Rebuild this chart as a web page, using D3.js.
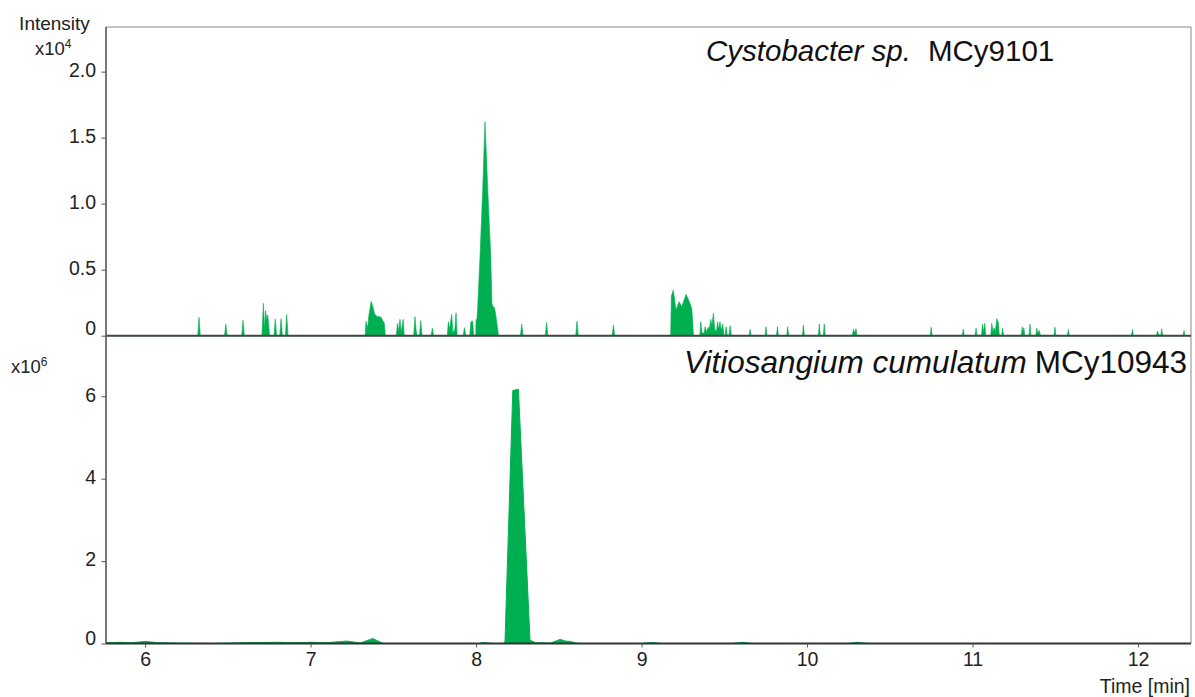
<!DOCTYPE html>
<html>
<head>
<meta charset="utf-8">
<script src="https://cdn.jsdelivr.net/npm/d3@7"></script>
<style>
  html, body { margin: 0; padding: 0; background: #fff; }
  svg { display: block; font-family: "Liberation Sans", Arial, sans-serif; }
</style>
</head>
<body>
<svg id="chart" width="1195" height="697"></svg>
<script>
// Retention-time window shown on the shared time axis (min)
const timeDomain = [5.764, 12.32];

// Upper trace: Cystobacter sp. MCy9101, [time (min), intensity (x10^4)]
const traceTop = [
  [5.764,0],
  [6.318,0],[6.326,0.14],[6.334,0],
  [6.480,0],[6.488,0.086],[6.496,0],
  [6.584,0],[6.592,0.117],[6.600,0],
  [6.706,0],[6.715,0.245],[6.722,0.05],[6.728,0.19],[6.736,0.12],[6.741,0.157],[6.748,0.07],[6.752,0],
  [6.779,0],[6.787,0.127],[6.795,0],
  [6.814,0],[6.822,0.13],[6.830,0],
  [6.848,0],[6.856,0.16],[6.864,0],
  [7.330,0],[7.335,0.11],[7.345,0.06],[7.352,0.15],[7.366,0.26],[7.374,0.23],[7.382,0.19],[7.388,0.16],
  [7.396,0.155],[7.402,0.14],[7.410,0.15],[7.418,0.14],[7.426,0.14],[7.434,0.12],[7.446,0.094],[7.452,0],
  [7.518,0],[7.525,0.094],[7.532,0.03],[7.540,0.124],[7.548,0.03],[7.560,0.124],[7.566,0],
  [7.623,0],[7.631,0.144],[7.638,0.04],[7.644,0],
  [7.658,0],[7.666,0.114],[7.674,0],
  [7.728,0],[7.736,0.056],[7.744,0],
  [7.826,0],[7.833,0.106],[7.840,0.05],[7.853,0.162],[7.860,0.02],[7.872,0.05],[7.879,0.174],[7.886,0],
  [7.922,0],[7.930,0.061],[7.938,0],
  [7.962,0],[7.968,0.10],[7.974,0.11],[7.980,0.11],[7.986,0],
  [7.998,0],[8.000,0.12],[8.006,0.13],[8.010,0.22],[8.024,0.60],[8.040,1.10],[8.054,1.62],
  [8.071,1.10],[8.089,0.60],[8.096,0.24],[8.104,0.22],[8.112,0.21],[8.120,0.15],[8.136,0],
  [8.268,0],[8.276,0.088],[8.284,0],
  [8.418,0],[8.426,0.10],[8.434,0],
  [8.602,0],[8.610,0.11],[8.618,0],
  [8.822,0],[8.830,0.08],[8.838,0],
  [9.176,0],[9.180,0.30],[9.192,0.346],[9.208,0.195],[9.227,0.258],[9.243,0.22],[9.269,0.313],
  [9.289,0.258],[9.304,0.20],[9.310,0.08],[9.314,0],
  [9.352,0],[9.358,0.106],[9.365,0.02],[9.378,0.02],[9.384,0.068],[9.392,0.03],[9.404,0.065],[9.410,0.05],
  [9.418,0.124],[9.426,0.08],[9.434,0.17],[9.442,0.05],[9.452,0.03],[9.460,0.106],[9.466,0.05],[9.474,0.106],
  [9.482,0.04],[9.491,0.088],[9.498,0],[9.504,0],[9.511,0.068],[9.518,0],[9.528,0],[9.535,0.076],[9.543,0],
  [9.650,0],[9.656,0.048],[9.662,0],
  [9.746,0],[9.752,0.068],[9.758,0],
  [9.815,0],[9.821,0.068],[9.827,0],
  [9.877,0],[9.883,0.068],[9.889,0],
  [9.972,0],[9.978,0.081],[9.984,0],
  [10.068,0],[10.074,0.088],[10.080,0],
  [10.098,0],[10.104,0.088],[10.110,0],
  [10.274,0],[10.280,0.048],[10.288,0.02],[10.296,0.053],[10.302,0],
  [10.744,0],[10.750,0.064],[10.756,0],
  [10.938,0],[10.944,0.051],[10.950,0],
  [11.015,0],[11.021,0.056],[11.027,0],
  [11.054,0],[11.060,0.088],[11.066,0.03],[11.074,0.094],[11.080,0],
  [11.110,0],[11.116,0.094],[11.124,0.03],[11.130,0.06],[11.138,0.03],[11.146,0.129],[11.156,0.10],[11.162,0],
  [11.176,0],[11.182,0.056],[11.188,0],
  [11.294,0],[11.300,0.068],[11.305,0.03],[11.310,0.06],[11.316,0],
  [11.341,0],[11.347,0.088],[11.353,0],
  [11.382,0],[11.388,0.056],[11.396,0.02],[11.404,0.04],[11.410,0],
  [11.492,0],[11.498,0.064],[11.504,0],
  [11.573,0],[11.579,0.048],[11.585,0],
  [11.960,0],[11.966,0.048],[11.972,0],
  [12.111,0],[12.117,0.036],[12.124,0.01],[12.137,0],[12.143,0.053],[12.149,0],
  [12.272,0],[12.278,0.038],[12.284,0],
  [12.32,0]
];

// Lower trace: Vitiosangium cumulatum MCy10943, [time (min), intensity (x10^6)]
const traceBottom = [
  [5.764,0.02],[5.85,0.03],[5.92,0.02],[6.00,0.05],[6.08,0.02],[6.20,0.01],[6.40,0.00],[6.60,0.02],
  [6.80,0.03],[6.90,0.02],[7.00,0.03],[7.10,0.02],[7.219,0.06],[7.30,0.01],[7.376,0.12],[7.44,0.00],
  [7.70,0.00],[8.02,0.00],[8.044,0.025],[8.10,0.00],[8.165,0.00],[8.175,0.05],[8.222,6.14],[8.256,6.17],
  [8.326,0.08],[8.36,0.02],[8.45,0.01],[8.508,0.10],[8.54,0.06],[8.568,0.05],[8.62,0.00],[9.00,0.00],
  [9.06,0.025],[9.12,0.00],[9.55,0.00],[9.61,0.03],[9.67,0.00],[10.25,0.00],[10.30,0.03],[10.37,0.00],
  [12.32,0.00]
];

// Axis ticks
const topMajorTicks = [0, 0.5, 1.0, 1.5, 2.0];
const topTickLabels = ["0", "0.5", "1.0", "1.5", "2.0"];
const bottomMajorTicks = [0, 2, 4, 6];
const bottomTickLabels = ["0", "2", "4", "6"];
const timeTicks = [6, 7, 8, 9, 10, 11, 12];

const green = "#00b050";
const axisColor = "#555";
const textColor = "#222";

const svg = d3.select("#chart");

const left = 106, right = 1191;
const topY = 27, midY = 335.7, bottomY = 643.5;

const x = d3.scaleLinear().domain(timeDomain).range([left, right]);
const yTop = d3.scaleLinear().domain([0, 2.338]).range([midY, topY]);
const yBot = d3.scaleLinear().domain([0, 7.47]).range([bottomY, midY]);

// Traces
const areaTop = d3.area().x(d => x(d[0])).y0(yTop(0)).y1(d => yTop(d[1]));
const areaBot = d3.area().x(d => x(d[0])).y0(yBot(0)).y1(d => yBot(d[1]));

svg.append("path").datum(traceTop)
  .attr("d", areaTop).attr("fill", green).attr("stroke", green).attr("stroke-width", 0.6);
svg.append("path").datum(traceBottom)
  .attr("d", areaBot).attr("fill", green).attr("stroke", green).attr("stroke-width", 1);

// Frame: top and right borders
svg.append("line").attr("x1", left).attr("x2", right).attr("y1", topY).attr("y2", topY)
  .attr("stroke", "#8a8a8a").attr("stroke-width", 1);
svg.append("line").attr("x1", right).attr("x2", right).attr("y1", topY).attr("y2", bottomY)
  .attr("stroke", "#8a8a8a").attr("stroke-width", 1);

// Upper panel baseline / divider
svg.append("line").attr("x1", left).attr("x2", right).attr("y1", midY).attr("y2", midY)
  .attr("stroke", "#444").attr("stroke-width", 2);

// Upper y axis
const gTop = svg.append("g").attr("transform", `translate(${left},0)`)
  .call(d3.axisLeft(yTop).tickValues(d3.range(0, 23).map(i => i / 10)).tickSize(2.5).tickFormat(""));
gTop.call(d3.axisLeft(yTop).tickValues(topMajorTicks).tickSize(4.5)
  .tickFormat((d, i) => topTickLabels[i]));

// Lower y axis
const gBot = svg.append("g").attr("transform", `translate(${left},0)`)
  .call(d3.axisLeft(yBot).tickValues([1, 3, 5, 7]).tickSize(2.5).tickFormat(""));
gBot.call(d3.axisLeft(yBot).tickValues(bottomMajorTicks).tickSize(4.5)
  .tickFormat((d, i) => bottomTickLabels[i]));

// Time axis
const gX = svg.append("g").attr("transform", `translate(0,${bottomY})`)
  .call(d3.axisBottom(x).tickValues(d3.range(29, 62).map(i => i / 5)).tickSize(3.5).tickFormat(""));
gX.call(d3.axisBottom(x).tickValues(timeTicks).tickSize(4).tickFormat(d3.format("d")));

[gTop, gBot, gX].forEach(g => {
  g.selectAll(".domain").attr("stroke", axisColor).attr("stroke-width", 1.6);
  g.selectAll(".tick line").attr("stroke", axisColor);
  g.selectAll("text").attr("fill", textColor).attr("font-size", 19.5)
    .attr("font-family", '"Liberation Sans", Arial, sans-serif');
});
gTop.select(".domain").attr("d", `M0,${topY}V${midY}`);
gBot.select(".domain").attr("d", `M0,${midY}V${bottomY}`);
gX.select(".domain").attr("d", `M${left},0H${right}`).attr("stroke", "#333").attr("stroke-width", 2);
gTop.selectAll(".tick text").attr("x", -10).attr("dy", d => d === 0 ? "-0.05em" : "0.25em");
gBot.selectAll(".tick text").attr("x", -10).attr("dy", d => d === 0 ? "0.05em" : "0.25em");
gX.selectAll(".tick text").attr("y", 9);

// Axis titles
svg.append("text").attr("x", 54.5).attr("y", 30).attr("text-anchor", "middle")
  .attr("font-size", 19).attr("fill", textColor).text("Intensity");
const e4 = svg.append("text").attr("x", 35).attr("y", 55)
  .attr("font-size", 18.5).attr("fill", textColor);
e4.append("tspan").text("x10");
e4.append("tspan").attr("font-size", 12).attr("dy", -7).text("4");
const e6 = svg.append("text").attr("x", 11).attr("y", 373)
  .attr("font-size", 18.5).attr("fill", textColor);
e6.append("tspan").text("x10");
e6.append("tspan").attr("font-size", 12).attr("dy", -7).text("6");

svg.append("text").attr("x", 1190).attr("y", 693).attr("text-anchor", "end")
  .attr("font-size", 19.5).attr("fill", textColor).text("Time [min]");

// Strain labels
const t1 = svg.append("text").attr("x", 706).attr("y", 61)
  .attr("font-size", 29.5).attr("fill", "#111");
t1.append("tspan").attr("font-style", "italic").text("Cystobacter sp.");
t1.append("tspan").attr("dx", 17).text("MCy9101");

const t2 = svg.append("text").attr("x", 1187).attr("y", 373).attr("text-anchor", "end")
  .attr("font-size", 31.5).attr("fill", "#111");
t2.append("tspan").attr("font-style", "italic").text("Vitiosangium cumulatum");
t2.append("tspan").attr("dx", 8).text("MCy10943");
</script>
</body>
</html>
